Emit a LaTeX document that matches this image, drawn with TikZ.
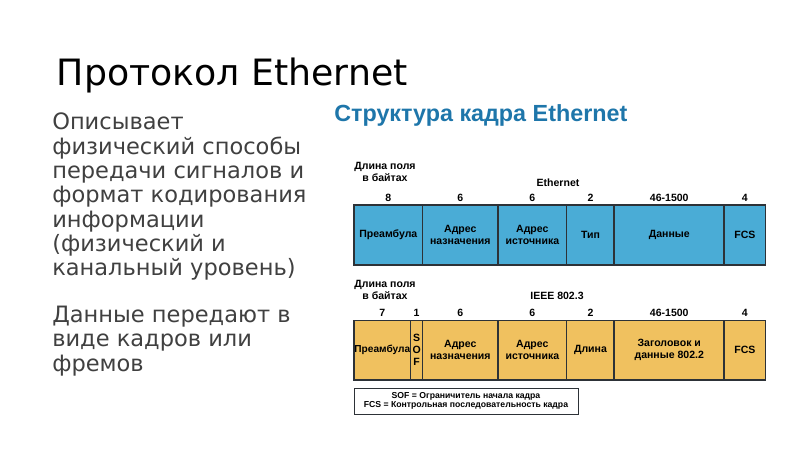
\documentclass[tikz,border=0pt]{standalone}
\usepackage{fontspec}
\setmainfont{DejaVu Sans}
\newfontfamily\arialfont{Liberation Sans}
\usetikzlibrary{positioning}

\definecolor{ethblue}{RGB}{74,172,214}
\definecolor{ieeeorange}{RGB}{240,193,95}
\definecolor{headblue}{RGB}{30,118,170}
\definecolor{bodygray}{RGB}{64,64,64}
\definecolor{framegray}{RGB}{45,50,55}

\begin{document}
\begin{tikzpicture}[x=0.75pt, y=-0.75pt, node distance=0pt]
	\tikzstyle{field}=[draw=framegray, line width=1.2pt, outer sep=0pt, inner sep=1pt, align=center, font=\arialfont\bfseries\fontsize{7.9}{9}\selectfont]
	\tikzstyle{bytes}=[inner sep=0pt, text height=5.7pt, text depth=0pt, font=\arialfont\bfseries\fontsize{7.9}{9}\selectfont]
	\tikzstyle{caption}=[inner sep=0pt, align=center, font=\arialfont\bfseries\fontsize{7.9}{8.8}\selectfont]

	\useasboundingbox (0,0) rectangle (800,450);

	% left column
	\node[anchor=base west, inner sep=0pt, font=\fontsize{27.2}{33}\selectfont] at (56.5,85) (title) {Протокол Ethernet};
	\node[anchor=north west, inner sep=0pt, align=left, text=bodygray, font=\fontsize{16.9}{18.2}\selectfont] at (52,113) (descr)
		{Описывает\\физический способы\\передачи сигналов и\\формат кодирования\\информации\\(физический и\\канальный уровень)\\[17pt]Данные передают в\\виде кадров или\\фремов};

	\node[anchor=base west, inner sep=0pt, text=headblue, font=\arialfont\bfseries\fontsize{17.5}{20}\selectfont] at (334,121.5) (head) {Структура кадра Ethernet};

	% Ethernet frame
	\node[caption] at (385,172) (lenA) {Длина поля\\в байтах};
	\node[caption] at (558,183) (nameA) {Ethernet};

	\node[field, fill=ethblue, minimum height=45pt, minimum width=51.5pt, anchor=west] at (354,235) (preA) {Преамбула};
	\node[field, fill=ethblue, minimum height=45pt, minimum width=56.5pt, right=of preA] (dstA) {Адрес\\назначения};
	\node[field, fill=ethblue, minimum height=45pt, minimum width=51.5pt, right=of dstA] (srcA) {Адрес\\источника};
	\node[field, fill=ethblue, minimum height=45pt, minimum width=35.7pt, right=of srcA] (typA) {Тип};
	\node[field, fill=ethblue, minimum height=45pt, minimum width=82.5pt, right=of typA] (datA) {Данные};
	\node[field, fill=ethblue, minimum height=45pt, minimum width=30.9pt, right=of datA] (fcsA) {FCS};

	\node[bytes, above=2.6pt of preA] (bpreA) {8};
	\node[bytes, above=2.6pt of dstA] (bdstA) {6};
	\node[bytes, above=2.6pt of srcA] (bsrcA) {6};
	\node[bytes, above=2.6pt of typA] (btypA) {2};
	\node[bytes, above=2.6pt of datA] (bdatA) {46-1500};
	\node[bytes, above=2.6pt of fcsA] (bfcsA) {4};

	% IEEE 802.3 frame
	\node[caption] at (385,290) (lenB) {Длина поля\\в байтах};
	\node[caption] at (557,296) (nameB) {IEEE 802.3};

	\node[field, fill=ieeeorange, minimum height=44.5pt, minimum width=42.5pt, inner sep=0pt, font=\arialfont\bfseries\fontsize{7.6}{9}\selectfont, anchor=west] at (354,350.3) (preB) {Преамбула};
	\node[field, fill=ieeeorange, minimum height=44.5pt, minimum width=9pt, inner sep=0pt, right=of preB] (sofB) {S\\O\\F};
	\node[field, fill=ieeeorange, minimum height=44.5pt, minimum width=56.5pt, right=of sofB] (dstB) {Адрес\\назначения};
	\node[field, fill=ieeeorange, minimum height=44.5pt, minimum width=51.5pt, right=of dstB] (srcB) {Адрес\\источника};
	\node[field, fill=ieeeorange, minimum height=44.5pt, minimum width=35.7pt, right=of srcB] (lenfB) {Длина};
	\node[field, fill=ieeeorange, minimum height=44.5pt, minimum width=82.5pt, right=of lenfB] (datB) {Заголовок и\\данные 802.2};
	\node[field, fill=ieeeorange, minimum height=44.5pt, minimum width=30.9pt, right=of datB] (fcsB) {FCS};

	\node[bytes, above=2.6pt of preB] (bpreB) {7};
	\node[bytes, above=2.6pt of sofB] (bsofB) {1};
	\node[bytes, above=2.6pt of dstB] (bdstB) {6};
	\node[bytes, above=2.6pt of srcB] (bsrcB) {6};
	\node[bytes, above=2.6pt of lenfB] (blenB) {2};
	\node[bytes, above=2.6pt of datB] (bdatB) {46-1500};
	\node[bytes, above=2.6pt of fcsB] (bfcsB) {4};

	% legend
	\node[draw=framegray, line width=0.6pt, minimum width=168pt, minimum height=19.5pt, inner sep=0pt, align=center, font=\arialfont\bfseries\fontsize{6.5}{6.9}\selectfont] at (466,401) (legend)
		{SOF = Ограничитель начала кадра\\FCS = Контрольная последовательность кадра};
\end{tikzpicture}
\end{document}
